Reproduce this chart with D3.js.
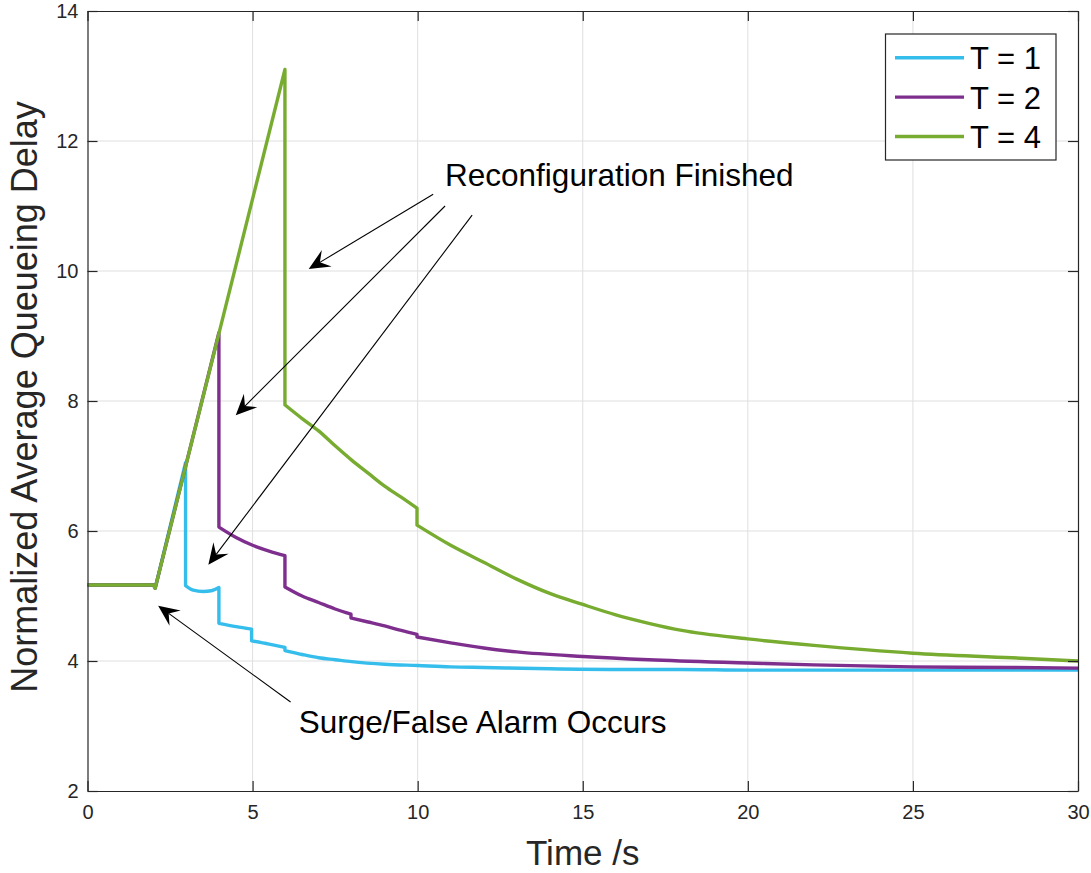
<!DOCTYPE html>
<html>
<head>
<meta charset="utf-8">
<script src="https://cdn.jsdelivr.net/npm/d3@7"></script>
<style>
  html, body { margin: 0; padding: 0; background: #fff; }
  svg { display: block; font-family: "Liberation Sans", Arial, Helvetica, sans-serif; }
</style>
</head>
<body>
<div id="wrapper"></div>
<script>
// ---- data ----
const seriesNames = [ 'T = 1', 'T = 2', 'T = 4' ];
const seriesColors = [ '#35bdec', '#7e2f8e', '#77ac30' ];

// a repeated time value marks a vertical drop
const timeT1 = [ 0, 2, 2.05, 2.97, 2.97, 3.2, 3.5, 3.75, 3.98, 3.98, 4.5, 4.97, 4.97, 5.5, 5.98, 5.98, 6.5, 7, 7.5, 8, 9, 10, 11, 12, 14, 16, 18, 20, 25, 30 ];
const delayT1 = [ 5.17, 5.17, 5.12, 7.05, 5.16, 5.09, 5.07, 5.08, 5.13, 4.58, 4.53, 4.49, 4.31, 4.26, 4.21, 4.16, 4.1, 4.05, 4.02, 3.99, 3.95, 3.93, 3.91, 3.9, 3.88, 3.87, 3.87, 3.86, 3.86, 3.86 ];

const timeT2 = [ 0, 2, 2.05, 3.98, 3.98, 4.5, 5, 5.5, 5.98, 5.98, 6.5, 7, 7.5, 7.98, 7.98, 8.5, 9, 9.5, 9.98, 9.98, 11, 12, 13, 15, 17, 20, 22, 25, 28, 30 ];
const delayT2 = [ 5.17, 5.17, 5.12, 9.05, 6.06, 5.9, 5.78, 5.69, 5.62, 5.14, 5.0, 4.9, 4.8, 4.72, 4.66, 4.6, 4.54, 4.47, 4.41, 4.37, 4.28, 4.2, 4.14, 4.07, 4.02, 3.97, 3.94, 3.91, 3.9, 3.89 ];

const timeT4 = [ 0, 2, 2.05, 5.98, 5.98, 6.5, 7, 7.5, 8, 8.5, 9, 9.5, 9.98, 9.98, 11, 12, 13, 14, 15, 16, 17, 18, 20, 22, 25, 28, 30 ];
const delayT4 = [ 5.17, 5.17, 5.12, 13.1, 7.94, 7.73, 7.54, 7.31, 7.09, 6.89, 6.69, 6.52, 6.35, 6.09, 5.78, 5.52, 5.26, 5.04, 4.87, 4.71, 4.58, 4.47, 4.34, 4.24, 4.12, 4.05, 4.0 ];

const xTicks = [ 0, 5, 10, 15, 20, 25, 30 ];
const yTicks = [ 2, 4, 6, 8, 10, 12, 14 ];

// annotation arrows, in data units: [fromTime, fromDelay, toTime, toDelay]
const reconfigArrows = [
  [ 10.47, 11.18, 6.7, 10.03 ],
  [ 10.83, 11.0, 4.49, 7.78 ],
  [ 11.65, 10.86, 3.66, 5.48 ]
];
const surgeArrow = [ 6.15, 3.37, 2.14, 4.85 ];
const reconfigText = { t: 10.83, v: 11.31, label: 'Reconfiguration Finished' };
const surgeText = { t: 6.4, v: 2.89, label: 'Surge/False Alarm Occurs' };

// ---- layout ----
const width = 1091, height = 873;
const margin = { left: 87.5, right: 1078, top: 11, bottom: 791 };

const svg = d3.select( '#wrapper' )
  .append( 'svg' )
  .attr( 'width', width )
  .attr( 'height', height );

const x = d3.scaleLinear().domain( [ 0, 30 ] ).range( [ margin.left, margin.right ] );
const y = d3.scaleLinear().domain( [ 2, 14 ] ).range( [ margin.bottom, margin.top ] );

// grid
const grid = svg.append( 'g' ).attr( 'class', 'grid' );
grid.selectAll( 'line.gx' )
  .data( xTicks.slice( 1, -1 ) )
  .enter()
  .append( 'line' )
  .attr( 'x1', d => x( d ) ).attr( 'x2', d => x( d ) )
  .attr( 'y1', margin.top ).attr( 'y2', margin.bottom )
  .attr( 'stroke', '#dfdfdf' ).attr( 'stroke-width', 1 );
grid.selectAll( 'line.gy' )
  .data( yTicks.slice( 1, -1 ) )
  .enter()
  .append( 'line' )
  .attr( 'y1', d => y( d ) ).attr( 'y2', d => y( d ) )
  .attr( 'x1', margin.left ).attr( 'x2', margin.right )
  .attr( 'stroke', '#dfdfdf' ).attr( 'stroke-width', 1 );

// series: split at the drops; the ramp stays straight, the decays are smoothed
const series = [
  { t: timeT1, v: delayT1 },
  { t: timeT2, v: delayT2 },
  { t: timeT4, v: delayT4 }
];
const ramp = d3.line()
  .x( d => x( d[ 0 ] ) )
  .y( d => y( d[ 1 ] ) );
const decay = d3.line()
  .x( d => x( d[ 0 ] ) )
  .y( d => y( d[ 1 ] ) )
  .curve( d3.curveMonotoneX );

function seriesPath( s ) {
  const pieces = [ [] ];
  s.t.forEach( ( t, j ) => {
    if ( j > 0 && t === s.t[ j - 1 ] ) pieces.push( [] );
    pieces[ pieces.length - 1 ].push( [ t, s.v[ j ] ] );
  } );
  return pieces
    .map( ( p, k ) => {
      let d;
      if ( p.length < 2 ) d = `M${x( p[ 0 ][ 0 ] )},${y( p[ 0 ][ 1 ] )}`;
      else d = k === 0 ? ramp( p ) : decay( p );
      return k === 0 ? d : 'L' + d.slice( 1 );
    } )
    .join( '' );
}

series.forEach( ( s, i ) => {
  svg.append( 'path' )
    .attr( 'd', seriesPath( s ) )
    .attr( 'fill', 'none' )
    .attr( 'stroke', seriesColors[ i ] )
    .attr( 'stroke-width', 3.4 )
    .attr( 'stroke-linejoin', 'round' );
} );

// axes (ticks inward, box on)
const axisColor = '#262626';
function styleAxis( g ) {
  g.selectAll( 'path.domain' ).attr( 'stroke', axisColor ).attr( 'stroke-width', 1.2 );
  g.selectAll( '.tick line' ).attr( 'stroke', axisColor ).attr( 'stroke-width', 1.2 );
  g.selectAll( 'text' )
    .attr( 'fill', axisColor )
    .attr( 'font-size', 20 )
    .attr( 'font-family', '"Liberation Sans", Arial, sans-serif' );
}

svg.append( 'g' )
  .attr( 'transform', `translate(0,${margin.bottom})` )
  .call( d3.axisBottom( x ).tickValues( xTicks ).tickSize( -10 ).tickSizeOuter( 0 ).tickPadding( 14 ) )
  .call( styleAxis );

svg.append( 'g' )
  .attr( 'transform', `translate(${margin.left},0)` )
  .call( d3.axisLeft( y ).tickValues( yTicks ).tickSize( -10 ).tickSizeOuter( 0 ).tickPadding( 9 ) )
  .call( styleAxis );

svg.append( 'g' )
  .attr( 'transform', `translate(0,${margin.top})` )
  .call( d3.axisTop( x ).tickValues( xTicks ).tickSize( -10 ).tickSizeOuter( 0 ).tickFormat( '' ) )
  .call( styleAxis );

svg.append( 'g' )
  .attr( 'transform', `translate(${margin.right},0)` )
  .call( d3.axisRight( y ).tickValues( yTicks ).tickSize( -10 ).tickSizeOuter( 0 ).tickFormat( '' ) )
  .call( styleAxis );

// axis labels
svg.append( 'text' )
  .attr( 'x', ( margin.left + margin.right ) / 2 )
  .attr( 'y', 865 )
  .attr( 'text-anchor', 'middle' )
  .attr( 'font-size', 35 )
  .attr( 'fill', axisColor )
  .text( 'Time /s' );

svg.append( 'text' )
  .attr( 'transform', `translate(37,${( margin.top + margin.bottom ) / 2 - 4}) rotate(-90)` )
  .attr( 'text-anchor', 'middle' )
  .attr( 'font-size', 36 )
  .attr( 'fill', axisColor )
  .text( 'Normalized Average Queueing Delay' );

// annotations
function arrow( a ) {
  const x1 = x( a[ 0 ] ), y1 = y( a[ 1 ] ), x2 = x( a[ 2 ] ), y2 = y( a[ 3 ] );
  const len = Math.hypot( x2 - x1, y2 - y1 );
  const ux = ( x2 - x1 ) / len, uy = ( y2 - y1 ) / len;
  const L = 21, W = 9.5, N = 13;
  const bx = x2 - L * ux, by = y2 - L * uy;
  const nx = x2 - N * ux, ny = y2 - N * uy;
  svg.append( 'line' )
    .attr( 'x1', x1 ).attr( 'y1', y1 )
    .attr( 'x2', nx ).attr( 'y2', ny )
    .attr( 'stroke', '#000' ).attr( 'stroke-width', 1.1 );
  svg.append( 'path' )
    .attr( 'd', `M${x2},${y2}L${bx - W * uy},${by + W * ux}L${nx},${ny}L${bx + W * uy},${by - W * ux}Z` )
    .attr( 'fill', '#000' );
}
reconfigArrows.forEach( arrow );
arrow( surgeArrow );

[ reconfigText, surgeText ].forEach( a => {
  svg.append( 'text' )
    .attr( 'x', x( a.t ) )
    .attr( 'y', y( a.v ) )
    .attr( 'font-size', 31.5 )
    .attr( 'fill', '#000' )
    .text( a.label );
} );

// legend
const legend = svg.append( 'g' ).attr( 'class', 'legend' );
legend.append( 'rect' )
  .attr( 'x', 885.5 ).attr( 'y', 34 )
  .attr( 'width', 170.5 ).attr( 'height', 126 )
  .attr( 'fill', '#fff' )
  .attr( 'stroke', axisColor ).attr( 'stroke-width', 1.2 );

const rows = legend.selectAll( 'g.row' )
  .data( seriesNames )
  .enter()
  .append( 'g' )
  .attr( 'transform', ( d, i ) => `translate(895,${57.7 + i * 39.4})` );
rows.append( 'line' )
  .attr( 'x1', 0 ).attr( 'x2', 69 )
  .attr( 'stroke', ( d, i ) => seriesColors[ i ] )
  .attr( 'stroke-width', 3.4 );
rows.append( 'text' )
  .attr( 'x', 75 )
  .attr( 'y', 11.5 )
  .attr( 'font-size', 31 )
  .attr( 'fill', '#000' )
  .text( d => d );
</script>
</body>
</html>
